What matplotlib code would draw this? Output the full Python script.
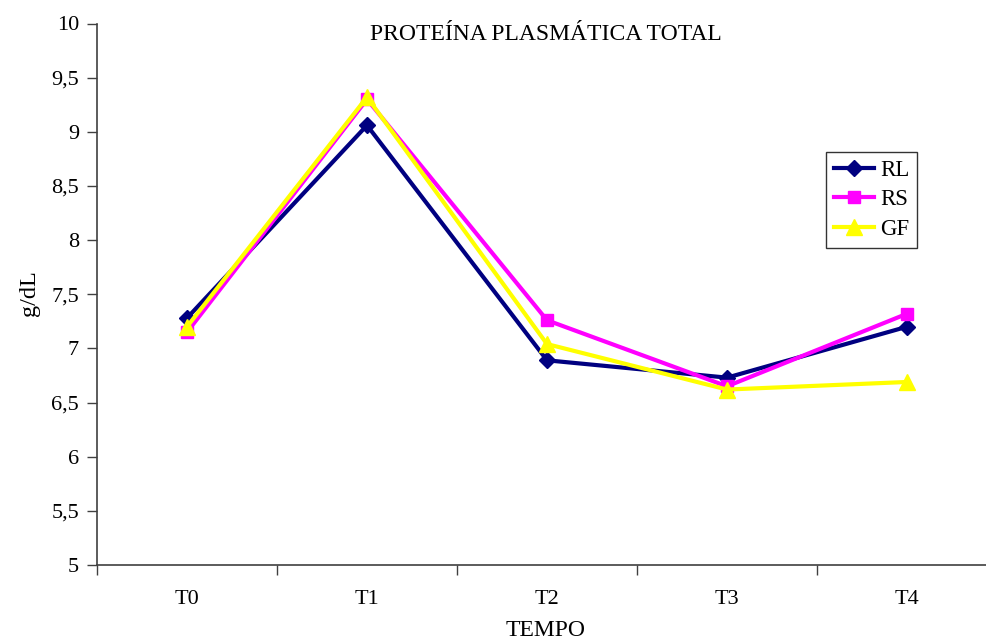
import numpy as np
import matplotlib
matplotlib.use("Agg")
import matplotlib.pyplot as plt
from matplotlib.ticker import FuncFormatter, FixedLocator

plt.rcParams['font.family'] = ['Liberation Serif', 'DejaVu Serif']

tempos = ["T0", "T1", "T2", "T3", "T4"]
rl = [7.28, 9.06, 6.89, 6.73, 7.20]
rs = [7.15, 9.30, 7.26, 6.65, 7.32]
gf = [7.20, 9.32, 7.04, 6.62, 6.69]

fig = plt.figure(figsize=(9.87, 6.43), dpi=100)
ax = fig.add_axes([97 / 987, 78 / 643, 900 / 987, 541.5 / 643])

x = np.arange(len(tempos))
ax.plot(x, rl, color='#000080', lw=3, marker='D', ms=8, label='RL')
ax.plot(x, rs, color='#FF00FF', lw=3, marker='s', ms=9, label='RS')
ax.plot(x, gf, color='#FFFF00', lw=3, marker='^', ms=11, label='GF')

ax.set_xlim(-0.5, len(tempos) - 0.5)
ax.set_ylim(5, 10)
ax.set_yticks(np.arange(5, 10.01, 0.5))
ax.yaxis.set_major_formatter(FuncFormatter(lambda v, p: ('%g' % v).replace('.', ',')))
ax.set_xticks(x)
ax.set_xticklabels(tempos)
ax.xaxis.set_minor_locator(FixedLocator(np.arange(-0.5, len(tempos), 1.0)))
ax.tick_params(axis='x', which='major', length=0, pad=18, labelsize=16)
ax.tick_params(axis='x', which='minor', length=7, direction='out', width=1, color='#404040')
ax.tick_params(axis='y', length=7, direction='out', width=1, color='#404040', labelsize=16, pad=6)

for s in ['top', 'right']:
    ax.spines[s].set_visible(False)
for s in ['left', 'bottom']:
    ax.spines[s].set_color('#404040')
    ax.spines[s].set_linewidth(1.2)

fig.text(546 / 987, 1 - 34 / 643, "PROTEÍNA PLASMÁTICA TOTAL", ha='center', va='center', fontsize=17)
fig.text(546 / 987, 1 - 631 / 643, "TEMPO", ha='center', va='center', fontsize=17)
fig.text(30 / 987, 1 - 293 / 643, "g/dL", ha='center', va='center', rotation=90, fontsize=17.5)

leg = ax.legend(loc='upper left', bbox_to_anchor=(826 / 987, 1 - 152 / 643),
                bbox_transform=fig.transFigure, frameon=True, fancybox=False,
                fontsize=16.5, handlelength=1.75, borderpad=0.35, labelspacing=0.36,
                handletextpad=0.26, borderaxespad=0)
leg.get_frame().set_edgecolor('black')
leg.get_frame().set_linewidth(1)

fig.savefig("out.png", dpi=100)
